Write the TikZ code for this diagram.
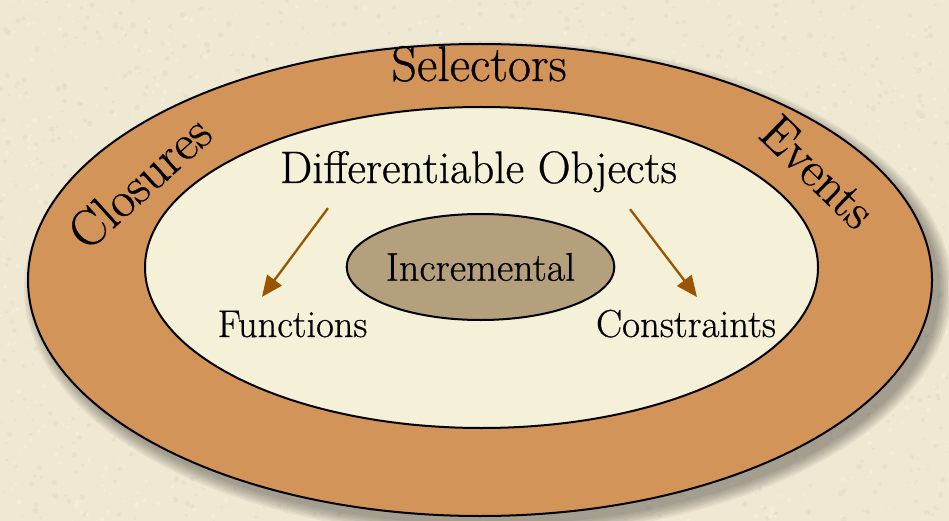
\documentclass[tikz,border=0pt]{standalone}
\usepackage{fontspec}
\setmainfont{Latin Modern Roman}[FakeBold=0.6]
\usetikzlibrary{shapes.geometric,arrows.meta}
\definecolor{parch}{HTML}{EFE8D3}
\definecolor{grainA}{HTML}{DBD1B7}
\definecolor{grainB}{HTML}{F8F4E8}
\definecolor{outerfill}{HTML}{D3945A}
\definecolor{innerfill}{HTML}{F5F0D8}
\definecolor{incfill}{HTML}{B4A07C}
\definecolor{arrowbrown}{HTML}{995500}
\begin{document}
\begin{tikzpicture}[x=1pt,y=-1pt,
  ring/.style={ellipse, draw=black, line width=2pt, inner sep=0pt},
  lbl/.style={inner sep=0pt, anchor=base, text=black},
  arr/.style={draw=arrowbrown, line width=2.3pt,
    -{Triangle[length=21pt,width=18pt]}}]
\useasboundingbox (0,0) rectangle (949,521);
% paper background with a light grain
\fill[parch] (0,0) rectangle (949,521);
\pgfmathsetseed{42}
\foreach \i in {1,...,1400}{
  \pgfmathsetmacro\px{rnd*949}
  \pgfmathsetmacro\py{rnd*521}
  \pgfmathsetmacro\pr{0.8+rnd*2.2}
  \fill[grainA, opacity=0.3] (\px,\py) circle (\pr pt);
}
\foreach \i in {1,...,1400}{
  \pgfmathsetmacro\px{rnd*949}
  \pgfmathsetmacro\py{rnd*521}
  \pgfmathsetmacro\pr{0.6+rnd*1.8}
  \fill[grainB, opacity=0.45] (\px,\py) circle (\pr pt);
}
% soft drop shadow of the outer ring
\foreach \s in {12,10,...,0}
  \fill[black, opacity=0.05] (488,289) ellipse ({452+\s} and {236+\s});
% nested ellipses
\node[ring, fill=outerfill, minimum width=904pt, minimum height=472pt] (outer) at (480,280) {};
\node[ring, fill=innerfill, minimum width=673pt, minimum height=321pt] (inner) at (481.5,267.5) {};
\node[ring, fill=incfill, minimum width=223pt, minimum height=106pt,
      font=\fontsize{40}{44}\selectfont] (incr) at (480.5,267) {Incremental};
% labels
\node[lbl, font=\fontsize{50}{54}\selectfont] (sel) at (479,81) {Selectors};
\node[lbl, rotate=42, font=\fontsize{51}{54}\selectfont] (clo) at (151,195) {Closures};
\node[lbl, rotate=-44, font=\fontsize{51}{54}\selectfont] (evt) at (806,184) {Events};
\node[lbl, font=\fontsize{45.5}{50}\selectfont] (diff) at (478.5,183) {Differentiable Objects};
\node[lbl, font=\fontsize{38.5}{42}\selectfont] (func) at (292.5,337) {Functions};
\node[lbl, font=\fontsize{39}{42}\selectfont] (cons) at (686,337) {Constraints};
% arrows
\draw[arr] ([xshift=-150.5pt,yshift=-15.7pt]diff.south) -- ([xshift=-30.5pt,yshift=13.7pt]func.north);
\draw[arr] ([xshift=151.5pt,yshift=-16.7pt]diff.south) -- ([xshift=11pt,yshift=12.5pt]cons.north);
\end{tikzpicture}
\end{document}
